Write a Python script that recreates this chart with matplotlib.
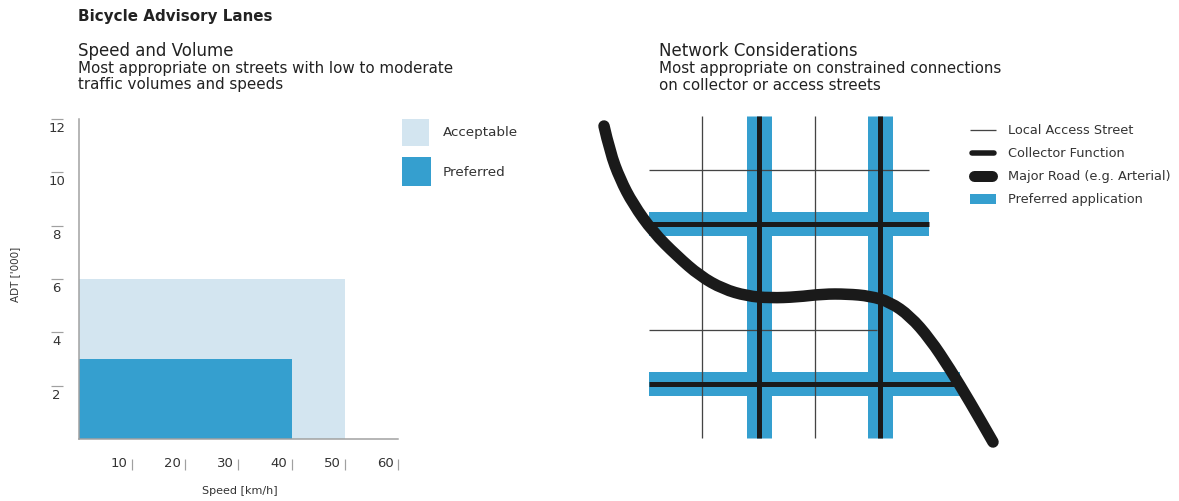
import matplotlib
matplotlib.use('Agg')
import matplotlib.pyplot as plt
from matplotlib.path import Path
from matplotlib.patches import PathPatch, Rectangle
from matplotlib.transforms import ScaledTranslation

W, H = 1179, 502

# speed / volume chart
speed_ticks = [10, 20, 30, 40, 50, 60]
adt_ticks = [2, 4, 6, 8, 10, 12]
acceptable_speed, acceptable_adt = 50, 6
preferred_speed, preferred_adt = 40, 3

# network diagram, in image pixels
local_x = [702, 815]
local_y = [171, 331]
local_y_end = [929, 877]
collector_x = [758.5, 879.5]
collector_y = [225, 385]
collector_y_end = [929, 960]
grid_top, grid_bottom, grid_left = 117, 439, 649
major_road = [(604, 127), (610, 153), (620, 180), (633, 205), (653, 233), (677, 257), (700, 277),
              (723, 290), (747, 297), (770, 299), (797, 298), (823, 295), (847, 295), (870, 297),
              (890, 303), (910, 317), (930, 340), (950, 370), (970, 403), (993, 443)]

legend_left = ['Acceptable', 'Preferred']
legend_right = ['Local Access Street', 'Collector Function', 'Major Road (e.g. Arterial)', 'Preferred application']

BLUE = '#359fcf'
LIGHT = '#d3e5f0'
BLACK = '#1a1a1a'
GREY = '#a0a0a0'
TEXT = '#333333'


def px(width):
    # line width in pixels to points
    return width * 72 / 100


def main():
    plt.rcParams['font.family'] = ['DejaVu Sans']
    fig = plt.figure(figsize=(W / 100, H / 100), dpi=100, facecolor='w')

    # page layer in pixel coordinates
    page = fig.add_axes([0, 0, 1, 1])
    page.set_xlim(0, W)
    page.set_ylim(H, 0)
    page.axis('off')

    # left chart
    x0, x1, y0, y1 = 78.5, 398, 440, 120
    ax = fig.add_axes([x0 / W, 1 - y0 / H, (x1 - x0) / W, (y0 - y1) / H])
    ax.patch.set_alpha(0)
    ax.set_xlim(0, speed_ticks[-1])
    ax.set_ylim(0, adt_ticks[-1])
    ax.add_patch(Rectangle((0, 0), acceptable_speed, acceptable_adt, fc=LIGHT, ec='none'))
    ax.add_patch(Rectangle((0, 0), preferred_speed, preferred_adt, fc=BLUE, ec='none'))
    for s in ['top', 'right']:
        ax.spines[s].set_visible(False)
    for s in ['left', 'bottom']:
        ax.spines[s].set_color(GREY)
        ax.spines[s].set_linewidth(px(1.5))

    ax.set_xticks(speed_ticks)
    ax.set_xticklabels(speed_ticks, ha='right', fontsize=9.5, color=TEXT)
    ax.set_yticks(adt_ticks)
    ax.set_yticklabels(adt_ticks, va='top', ha='center', fontsize=9.5, color=TEXT)
    ax.tick_params(axis='x', length=0, pad=12)
    ax.tick_params(axis='y', length=0, pad=15)
    shift = ScaledTranslation(-4 / 100, 0, fig.dpi_scale_trans)
    for label in ax.get_xticklabels():
        label.set_transform(label.get_transform() + shift)
    shift_y = ScaledTranslation(-1 / 100, -2 / 100, fig.dpi_scale_trans)
    for label in ax.get_yticklabels():
        label.set_transform(label.get_transform() + shift_y)

    # detached tick marks
    ax.hlines(adt_ticks, -27.5 / (x1 - x0), -15.5 / (x1 - x0), transform=ax.get_yaxis_transform(),
              color=GREY, lw=px(1.2), clip_on=False)
    ax.vlines(speed_ticks, -31 / (y0 - y1), -20 / (y0 - y1), transform=ax.get_xaxis_transform(),
              color=GREY, lw=px(1.2), clip_on=False)

    page.text(240, 491, 'Speed [km/h]', ha='center', va='center', fontsize=8, color=TEXT)
    page.text(15, 274, "ADT ['000]", ha='center', va='center', rotation=90, fontsize=7.5, color=TEXT)

    # left legend
    page.add_patch(Rectangle((402, 120), 27, 27, fc=LIGHT, ec='none'))
    page.add_patch(Rectangle((402, 158), 29, 29, fc=BLUE, ec='none'))
    page.text(443, 133, legend_left[0], va='center', fontsize=9.7, color=TEXT)
    page.text(443, 173, legend_left[1], va='center', fontsize=9.7, color=TEXT)

    # headings
    page.text(78, 17, 'Bicycle Advisory Lanes', va='center', fontsize=10.9, fontweight='bold', color='#222222')
    page.text(78, 51, 'Speed and Volume', va='center', fontsize=12, color='#222222')
    page.text(78, 68, 'Most appropriate on streets with low to moderate', va='center', fontsize=10.9, color='#222222')
    page.text(78, 85, 'traffic volumes and speeds', va='center', fontsize=10.9, color='#222222')
    page.text(659, 51, 'Network Considerations', va='center', fontsize=12, color='#222222')
    page.text(659, 68, 'Most appropriate on constrained connections', va='center', fontsize=10.9, color='#222222')
    page.text(659, 85, 'on collector or access streets', va='center', fontsize=10.9, color='#222222')

    # network: blue bands
    for x in collector_x:
        page.plot([x, x], [grid_top, grid_bottom], color=BLUE, lw=px(25), solid_capstyle='butt', zorder=2)
    for y, end in zip(collector_y, collector_y_end):
        page.plot([grid_left, end], [y, y], color=BLUE, lw=px(24), solid_capstyle='butt', zorder=2)

    # local streets
    for x in local_x:
        page.plot([x, x], [grid_top, grid_bottom], color='#444444', lw=px(1.3), solid_capstyle='butt', zorder=3)
    for y, end in zip(local_y, local_y_end):
        page.plot([grid_left, end], [y, y], color='#444444', lw=px(1.3), solid_capstyle='butt', zorder=3)

    # collectors
    for x in collector_x:
        page.plot([x, x], [grid_top, grid_bottom], color=BLACK, lw=px(5), solid_capstyle='butt', zorder=4)
    for y, end in zip(collector_y, collector_y_end):
        page.plot([grid_left, end], [y, y], color=BLACK, lw=px(5), solid_capstyle='butt', zorder=4)

    # major road as a quadratic spline through the read points
    verts = [major_road[0]]
    codes = [Path.MOVETO]
    for i in range(1, len(major_road) - 1):
        a, b = major_road[i], major_road[i + 1]
        verts += [a, ((a[0] + b[0]) / 2, (a[1] + b[1]) / 2)]
        codes += [Path.CURVE3, Path.CURVE3]
    verts.append(major_road[-1])
    codes.append(Path.LINETO)
    page.add_patch(PathPatch(Path(verts, codes), fc='none', ec=BLACK, lw=px(11.5), capstyle='round',
                             joinstyle='round', zorder=5))

    # right legend
    ly = [131, 154, 177, 200]
    page.plot([970, 996], [ly[0], ly[0]], color='#444444', lw=px(1.3), solid_capstyle='butt')
    page.plot([972, 994], [ly[1], ly[1]], color=BLACK, lw=px(5.5), solid_capstyle='round')
    page.plot([974, 992], [ly[2], ly[2]], color=BLACK, lw=px(11), solid_capstyle='round')
    page.add_patch(Rectangle((970, ly[3] - 5), 26, 10, fc=BLUE, ec='none'))
    for y, name in zip(ly, legend_right):
        page.text(1008, y, name, va='center', fontsize=9.3, color=TEXT)

    fig.savefig('out.png', dpi=100, facecolor='w')
    plt.close('all')


if __name__ == '__main__':
    main()
